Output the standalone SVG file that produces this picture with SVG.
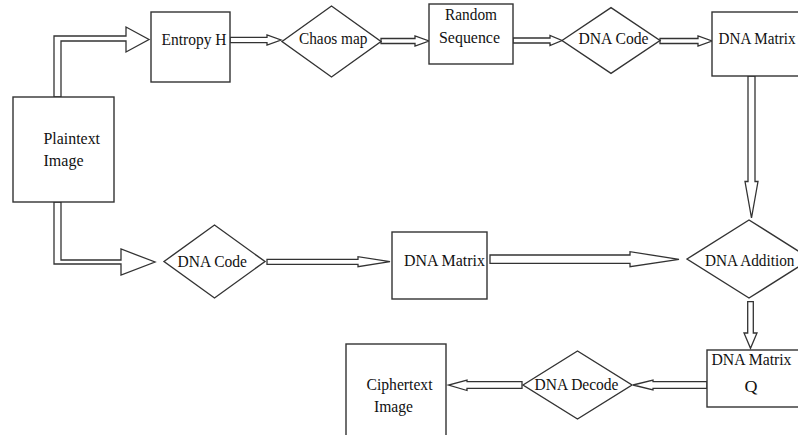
<svg xmlns="http://www.w3.org/2000/svg" width="798" height="435" viewBox="0 0 798 435">
<style>
.n{fill:#fff;stroke:#333;stroke-width:1.4}
.a{fill:#fff;stroke:#333;stroke-width:1.3;stroke-linejoin:miter}
text{font-family:"Liberation Serif","Times New Roman",serif;font-size:17px;fill:#111}
</style>
<rect width="798" height="435" fill="#fff"/>
<g id="connectors">
<polygon class="a" points="54,97 54,36 126,36 126,27 149,39.5 126,52 126,41 61,41 61,97"/>
<polygon class="a" points="230,37.3 267,37.3 267,35 281,40 267,45 267,42.7 230,42.7"/>
<polygon class="a" points="381,38.5 415,38.5 415,36 429,41 415,46 415,43.5 381,43.5"/>
<polygon class="a" points="513,38 550,38 550,35.5 562,40.5 550,45.5 550,43 513,43"/>
<polygon class="a" points="660,38.5 698,38.5 698,36 712,41 698,46 698,43.5 660,43.5"/>
<polygon class="a" points="748,76 755,76 755,181.5 758,181.5 751.5,218 745,181.5 748,181.5"/>
<polygon class="a" points="54,202 54,264 121,264 121,275 155,262 121,249 121,260 61,260 61,202"/>
<polygon class="a" points="267,259.3 358,259.3 358,256.7 390,261.7 358,266.7 358,264.3 267,264.3"/>
<polygon class="a" points="490,255 630,255 630,251.7 679,259.3 630,266.7 630,263.3 490,263.3"/>
<polygon class="a" points="747.7,301.7 753.3,301.7 753.3,333 757,333 750.5,348.3 744,333 747.7,333"/>
<polygon class="a" points="707,381.7 653,381.7 653,380 633,385 653,390 653,388.3 707,388.3"/>
<polygon class="a" points="522,381.7 467,381.7 467,380 448.5,385 467,390.5 467,388.3 522,388.3"/>
</g>
<g id="plaintext"><rect class="n" x="13" y="97" width="101" height="105"/><text x="43.5" y="144" textLength="56.5" lengthAdjust="spacingAndGlyphs">Plaintext</text><text x="43.5" y="166" textLength="40" lengthAdjust="spacingAndGlyphs">Image</text></g>
<g id="entropy"><rect class="n" x="151" y="12" width="79" height="70"/><text x="161.5" y="45" textLength="65" lengthAdjust="spacingAndGlyphs">Entropy H</text></g>
<g id="chaos"><polygon class="n" points="282,41.5 331.5,6 381,41.5 331.5,77"/><text x="299" y="43.5" textLength="68.5" lengthAdjust="spacingAndGlyphs">Chaos map</text></g>
<g id="random"><rect class="n" x="429" y="4" width="84" height="60"/><text x="445" y="20" textLength="52" lengthAdjust="spacingAndGlyphs">Random</text><text x="439" y="43" textLength="61" lengthAdjust="spacingAndGlyphs">Sequence</text></g>
<g id="dnacode1"><polygon class="n" points="562,40.5 611,7.7 660,40.5 611,73.3"/><text x="578.5" y="43.5" textLength="70" lengthAdjust="spacingAndGlyphs">DNA Code</text></g>
<g id="dnamatrix1"><rect class="n" x="712" y="12" width="100" height="64"/><text x="718.5" y="43.5" textLength="77" lengthAdjust="spacingAndGlyphs">DNA Matrix</text></g>
<g id="dnacode2"><polygon class="n" points="164,261.5 214.5,225 265,261.5 214.5,298"/><text x="177.5" y="266.5" textLength="69.5" lengthAdjust="spacingAndGlyphs">DNA Code</text></g>
<g id="dnamatrix2"><rect class="n" x="392" y="232" width="95" height="67"/><text x="404" y="266" textLength="81" lengthAdjust="spacingAndGlyphs">DNA Matrix</text></g>
<g id="dnaaddition"><polygon class="n" points="687,259 749,220 811,259 749,298"/><text x="705" y="266" textLength="89.5" lengthAdjust="spacingAndGlyphs">DNA Addition</text></g>
<g id="dnamatrixq"><rect class="n" x="707" y="350" width="100" height="57"/><text x="711.5" y="365" textLength="80" lengthAdjust="spacingAndGlyphs">DNA Matrix</text><text x="744.5" y="392" textLength="13" lengthAdjust="spacingAndGlyphs">Q</text></g>
<g id="dnadecode"><polygon class="n" points="523,385 577.5,351 632,385 577.5,419"/><text x="534.5" y="390" textLength="84" lengthAdjust="spacingAndGlyphs">DNA Decode</text></g>
<g id="ciphertext"><rect class="n" x="346" y="344" width="100" height="100"/><text x="366.5" y="390" textLength="66" lengthAdjust="spacingAndGlyphs">Ciphertext</text><text x="374" y="411.5" textLength="39" lengthAdjust="spacingAndGlyphs">Image</text></g>
</svg>
